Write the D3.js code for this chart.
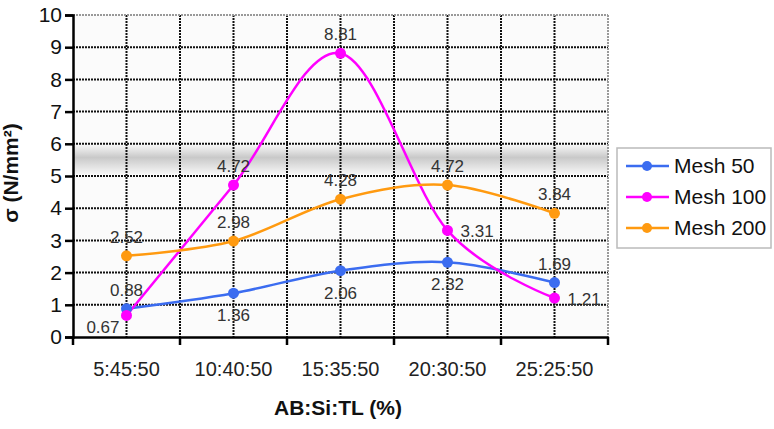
<!DOCTYPE html>
<html>
<head>
<meta charset="utf-8">
<script src="https://cdn.jsdelivr.net/npm/d3@7"></script>
<style>
  html, body { margin: 0; padding: 0; background: #fff; }
  svg { display: block; font-family: "Liberation Sans", Arial, sans-serif; }
</style>
</head>
<body>
<svg id="chart" width="774" height="429"></svg>
<script>
// ---- data ----
const categories = ["5:45:50", "10:40:50", "15:35:50", "20:30:50", "25:25:50"];
const seriesNames = ["Mesh 50", "Mesh 100", "Mesh 200"];
const mesh50  = [0.88, 1.36, 2.06, 2.32, 1.69];
const mesh100 = [0.67, 4.72, 8.81, 3.31, 1.21];
const mesh200 = [2.52, 2.98, 4.28, 4.72, 3.84];
const yTicks = [0, 1, 2, 3, 4, 5, 6, 7, 8, 9, 10];
const xTitle = "AB:Si:TL (%)";
const yTitle = "σ (N/mm²)";

// label placement (style, not data)
const place50  = ["above", "below", "below", "below", "above"];
const place100 = ["lowleft", "above", "above", "right", "right"];
const place200 = ["above", "above", "above", "above", "above"];
const colors = ["#3b6cf0", "#ff00ff", "#ff9a10"];

const svg = d3.select("#chart");
const L = 73, R = 608, T = 15, B = 337;

const x = d3.scaleBand().domain(categories).range([L, R]).padding(0);
const y = d3.scaleLinear().domain([0, 10]).range([B, T]);
const cx = c => x(c) + x.bandwidth() / 2;

// plot background
const defs = svg.append("defs");
const grad = defs.append("linearGradient").attr("id", "band").attr("x1", 0).attr("y1", 0).attr("x2", 0).attr("y2", 1);
grad.append("stop").attr("offset", "0%").attr("stop-color", "#fafafa");
grad.append("stop").attr("offset", "45%").attr("stop-color", "#c9c9c9");
grad.append("stop").attr("offset", "100%").attr("stop-color", "#f6f6f6");

svg.append("rect").attr("x", L).attr("y", T).attr("width", R - L).attr("height", B - T).attr("fill", "#fbfbfb");
svg.append("rect").attr("x", L).attr("y", 144).attr("width", R - L).attr("height", 30).attr("fill", "url(#band)");

// grid lines
const g = svg.append("g");
yTicks.filter(v => v > 0 && v < 10).forEach(v => {
  g.append("line").attr("x1", L).attr("x2", R).attr("y1", y(v)).attr("y2", y(v))
    .attr("stroke", "#111").attr("stroke-width", 2).attr("stroke-dasharray", "2,1");
});
const vLines = [];
categories.forEach((c, i) => { vLines.push(cx(c)); if (i > 0) vLines.push(x(c)); });
vLines.forEach(v => {
  g.append("line").attr("x1", v).attr("x2", v).attr("y1", T).attr("y2", B)
    .attr("stroke", "#111").attr("stroke-width", 2).attr("stroke-dasharray", "2,1");
});
// top and right border (light)
g.append("line").attr("x1", L).attr("x2", R).attr("y1", T).attr("y2", T)
  .attr("stroke", "#999").attr("stroke-width", 2).attr("stroke-dasharray", "2,1");
g.append("line").attr("x1", R).attr("x2", R).attr("y1", T).attr("y2", B)
  .attr("stroke", "#999").attr("stroke-width", 2).attr("stroke-dasharray", "2,1");

// axes
const yAxis = d3.axisLeft(y).tickValues(yTicks).tickSize(8).tickPadding(3);
const yg = svg.append("g").attr("transform", `translate(${L},0)`).call(yAxis);
yg.select(".domain").attr("stroke", "#000").attr("stroke-width", 2.5);
yg.selectAll(".tick line").attr("stroke", "#000").attr("stroke-width", 2.5);
yg.selectAll(".tick text").attr("font-size", 21).attr("fill", "#111");

const xAxis = d3.axisBottom(x).tickSize(0).tickPadding(25);
const xg = svg.append("g").attr("transform", `translate(0,${B})`).call(xAxis);
xg.select(".domain").attr("stroke", "#000").attr("stroke-width", 2.5);
xg.selectAll(".tick text").attr("font-size", 20).attr("fill", "#222");
// boundary tick marks
const bounds = [L].concat(categories.slice(1).map(c => x(c))).concat([R]);
bounds.forEach(b => {
  xg.append("line").attr("x1", b).attr("x2", b).attr("y1", 0).attr("y2", 8)
    .attr("stroke", "#000").attr("stroke-width", 2.5);
});

// titles
svg.append("text").attr("x", 338).attr("y", 415).attr("text-anchor", "middle")
  .attr("font-size", 21).attr("font-weight", "bold").attr("fill", "#111").text(xTitle);
svg.append("text").attr("transform", "translate(18,173) rotate(-90)").attr("text-anchor", "middle")
  .attr("font-size", 21).attr("font-weight", "bold").attr("fill", "#111").text(yTitle);

// series
const allSeries = [mesh50, mesh100, mesh200];
const places = [place50, place100, place200];
const line = d3.line().x((d, i) => cx(categories[i])).y(d => y(d)).curve(d3.curveCatmullRom.alpha(0));

allSeries.forEach((vals, si) => {
  svg.append("path").attr("d", line(vals)).attr("fill", "none")
    .attr("stroke", colors[si]).attr("stroke-width", 2.5);
});
allSeries.forEach((vals, si) => {
  vals.forEach((v, i) => {
    svg.append("circle").attr("cx", cx(categories[i])).attr("cy", y(v)).attr("r", 5.5).attr("fill", colors[si]);
  });
});
// labels
allSeries.forEach((vals, si) => {
  vals.forEach((v, i) => {
    const px = cx(categories[i]), py = y(v);
    let lx = px, ly = py, anchor = "middle";
    const p = places[si][i];
    if (p === "above") { ly = py - 13; }
    else if (p === "below") { ly = py + 28; }
    else if (p === "right") { lx = px + 13; ly = py + 7; anchor = "start"; }
    else if (p === "lowleft") { lx = px - 7; ly = py + 18; anchor = "end"; }
    svg.append("text").attr("x", lx).attr("y", ly).attr("text-anchor", anchor)
      .attr("font-size", 17).attr("fill", "#333").text(v.toFixed(2));
  });
});

// legend
const lg = svg.append("g");
lg.append("rect").attr("x", 617).attr("y", 148).attr("width", 154).attr("height", 100)
  .attr("fill", "#fff").attr("stroke", "#bbb").attr("stroke-width", 1.5);
seriesNames.forEach((n, i) => {
  const yy = 166 + i * 31;
  lg.append("line").attr("x1", 626).attr("x2", 669).attr("y1", yy).attr("y2", yy)
    .attr("stroke", colors[i]).attr("stroke-width", 2.5);
  lg.append("circle").attr("cx", 647).attr("cy", yy).attr("r", 5).attr("fill", colors[i]);
  lg.append("text").attr("x", 674).attr("y", yy + 7).attr("font-size", 21).attr("fill", "#111").text(n);
});
</script>
</body>
</html>
